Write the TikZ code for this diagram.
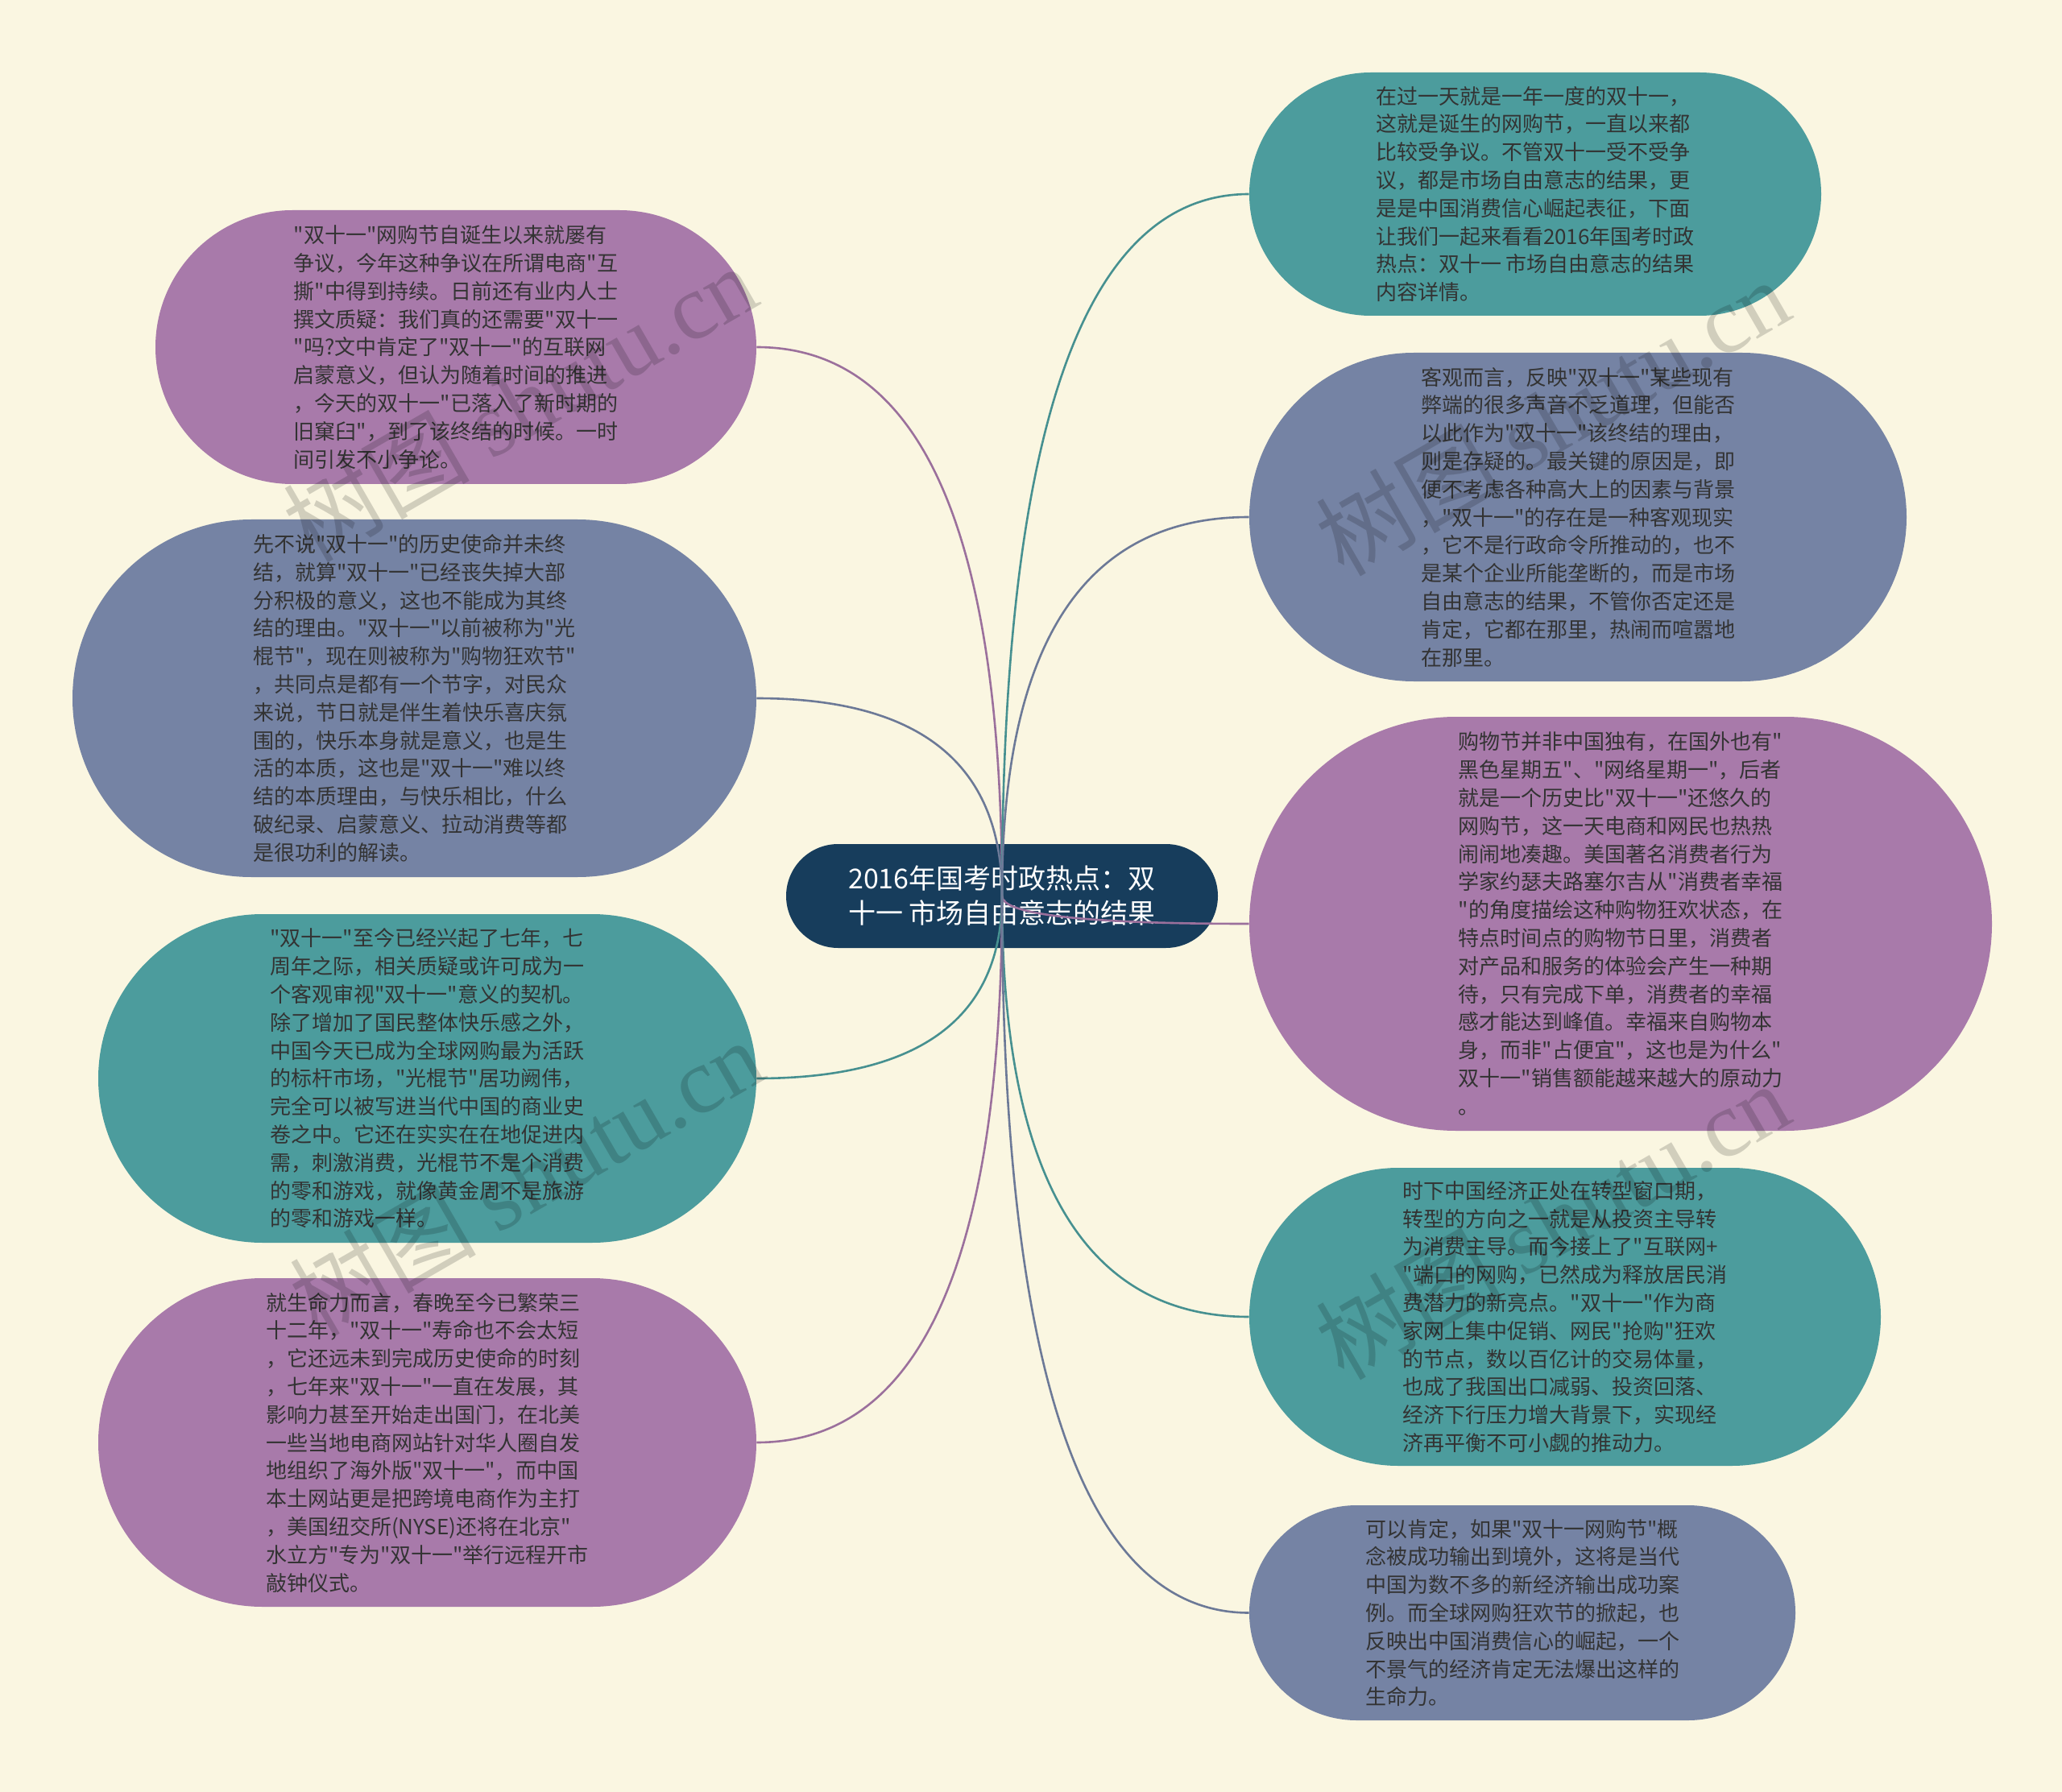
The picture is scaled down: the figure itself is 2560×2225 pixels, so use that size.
\documentclass[tikz,border=0pt]{standalone}
\usepackage{fontspec}
\setmainfont{Noto Sans CJK SC}[Ligatures=TeXOff]
\newfontfamily\wmlatin{Liberation Serif}
\usetikzlibrary{calc,shapes.misc}
\definecolor{bgc}{HTML}{FAF6E1}
\definecolor{tealc}{HTML}{4C9C9D}
\definecolor{slatec}{HTML}{7583A4}
\definecolor{purplec}{HTML}{A87AAA}
\definecolor{rootc}{HTML}{173D5C}
\definecolor{txtc}{HTML}{333333}
\tikzset{
  topic/.style={shape=rounded rectangle, inner sep=0pt, text=txtc, align=left,
    font=\fontsize{13pt}{17.4pt}\selectfont},
  central/.style={shape=rounded rectangle, fill=rootc, text=white, align=left,
    inner sep=0pt, font=\fontsize{17pt}{21.5pt}\selectfont},
  conn/.style={line width=1.3pt},
  wm/.style={text=black, opacity=0.16, rotate=30, font=\fontsize{58pt}{60pt}\selectfont}
}
\newcommand\mmlink[3]{\draw[conn,#1] (root) .. controls ($(root)!0.667!(root |- #2.#3)$) and ($(#2.#3)!0.667!(root |- #2.#3)$) .. (#2.#3);}
\begin{document}
\begin{tikzpicture}[x=0.5pt,y=-0.5pt]
\useasboundingbox (0,0) rectangle (2560,2225);
\fill[bgc] (0,0) rectangle (2560,2225);

% left topics
\node[topic, fill=purplec, minimum width=373pt, minimum height=170pt] (L1) at (566,431)
{"双十一"网购节自诞生以来就屡有\\争议，今年这种争议在所谓电商"互\\撕"中得到持续。日前还有业内人士\\撰文质疑：我们真的还需要"双十一\\"吗?文中肯定了"双十一"的互联网\\启蒙意义，但认为随着时间的推进\\，今天的双十一"已落入了新时期的\\旧窠臼"，到了该终结的时候。一时\\间引发不小争论。};
\node[topic, fill=slatec, minimum width=424.5pt, minimum height=222pt] (L2) at (514.5,867)
{先不说"双十一"的历史使命并未终\\结，就算"双十一"已经丧失掉大部\\分积极的意义，这也不能成为其终\\结的理由。"双十一"以前被称为"光\\棍节"，现在则被称为"购物狂欢节"\\，共同点是都有一个节字，对民众\\来说，节日就是伴生着快乐喜庆氛\\围的，快乐本身就是意义，也是生\\活的本质，这也是"双十一"难以终\\结的本质理由，与快乐相比，什么\\破纪录、启蒙意义、拉动消费等都\\是很功利的解读。};
\node[topic, fill=tealc, minimum width=408.5pt, minimum height=204pt] (L3) at (530.5,1339)
{"双十一"至今已经兴起了七年，七\\周年之际，相关质疑或许可成为一\\个客观审视"双十一"意义的契机。\\除了增加了国民整体快乐感之外，\\中国今天已成为全球网购最为活跃\\的标杆市场，"光棍节"居功阙伟，\\完全可以被写进当代中国的商业史\\卷之中。它还在实实在在地促进内\\需，刺激消费，光棍节不是个消费\\的零和游戏，就像黄金周不是旅游\\的零和游戏一样。};
\node[topic, fill=purplec, minimum width=408.5pt, minimum height=204pt] (L4) at (530.5,1791)
{就生命力而言，春晚至今已繁荣三\\十二年，"双十一"寿命也不会太短\\，它还远未到完成历史使命的时刻\\，七年来"双十一"一直在发展，其\\影响力甚至开始走出国门，在北美\\一些当地电商网站针对华人圈自发\\地组织了海外版"双十一"，而中国\\本土网站更是把跨境电商作为主打\\，美国纽交所(NYSE)还将在北京"\\水立方"专为"双十一"举行远程开市\\敲钟仪式。};

% right topics
\node[topic, fill=tealc, minimum width=355pt, minimum height=151pt] (R1) at (1906,241)
{在过一天就是一年一度的双十一，\\这就是诞生的网购节，一直以来都\\比较受争议。不管双十一受不受争\\议，都是市场自由意志的结果，更\\是是中国消费信心崛起表征，下面\\让我们一起来看看2016年国考时政\\热点：双十一 市场自由意志的结果\\内容详情。};
\node[topic, fill=slatec, minimum width=408pt, minimum height=204pt] (R2) at (1959,642)
{客观而言，反映"双十一"某些现有\\弊端的很多声音不乏道理，但能否\\以此作为"双十一"该终结的理由，\\则是存疑的。最关键的原因是，即\\便不考虑各种高大上的因素与背景\\，"双十一"的存在是一种客观现实\\，它不是行政命令所推动的，也不\\是某个企业所能垄断的，而是市场\\自由意志的结果，不管你否定还是\\肯定，它都在那里，热闹而喧嚣地\\在那里。};
\node[topic, fill=purplec, minimum width=461pt, minimum height=257pt] (R3) at (2012,1147)
{购物节并非中国独有，在国外也有"\\黑色星期五"、"网络星期一"，后者\\就是一个历史比"双十一"还悠久的\\网购节，这一天电商和网民也热热\\闹闹地凑趣。美国著名消费者行为\\学家约瑟夫路塞尔吉从"消费者幸福\\"的角度描绘这种购物狂欢状态，在\\特点时间点的购物节日里，消费者\\对产品和服务的体验会产生一种期\\待，只有完成下单，消费者的幸福\\感才能达到峰值。幸福来自购物本\\身，而非"占便宜"，这也是为什么"\\双十一"销售额能越来越大的原动力\\。};
\node[topic, fill=tealc, minimum width=392pt, minimum height=185pt] (R4) at (1943,1635)
{时下中国经济正处在转型窗口期，\\转型的方向之一就是从投资主导转\\为消费主导。而今接上了"互联网+\\"端口的网购，已然成为释放居民消\\费潜力的新亮点。"双十一"作为商\\家网上集中促销、网民"抢购"狂欢\\的节点，数以百亿计的交易体量，\\也成了我国出口减弱、投资回落、\\经济下行压力增大背景下，实现经\\济再平衡不可小觑的推动力。};
\node[topic, fill=slatec, minimum width=339pt, minimum height=133.5pt] (R5) at (1890,2002.5)
{可以肯定，如果"双十一网购节"概\\念被成功输出到境外，这将是当代\\中国为数不多的新经济输出成功案\\例。而全球网购狂欢节的掀起，也\\反映出中国消费信心的崛起，一个\\不景气的经济肯定无法爆出这样的\\生命力。};

% central topic
\node[central, minimum width=268pt, minimum height=64.5pt] (C) at (1244,1112.5)
{2016年国考时政热点：双\\十一 市场自由意志的结果};
\coordinate (root) at (C.center);

% connectors
\mmlink{purplec!92!black}{L1}{east}
\mmlink{slatec!92!black}{L2}{east}
\mmlink{tealc!92!black}{L3}{east}
\mmlink{purplec!92!black}{L4}{east}
\mmlink{tealc!92!black}{R1}{west}
\mmlink{slatec!92!black}{R2}{west}
\mmlink{purplec!92!black}{R3}{west}
\mmlink{tealc!92!black}{R4}{west}
\mmlink{slatec!92!black}{R5}{west}

% watermarks
\node[wm] (W1) at (645,500) {树图 {\wmlatin shutu.cn}};
\node[wm] (W2) at (653,1461) {树图 {\wmlatin shutu.cn}};
\node[wm] (W3) at (1927,517) {树图 {\wmlatin shutu.cn}};
\node[wm] (W4) at (1927,1515) {树图 {\wmlatin shutu.cn}};
\end{tikzpicture}
\end{document}
